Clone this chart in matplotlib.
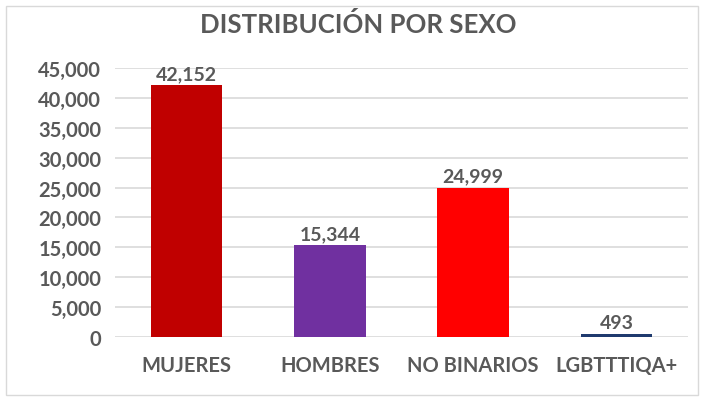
import matplotlib
matplotlib.use("Agg")
import matplotlib.pyplot as plt
from matplotlib.patches import Rectangle

categorias = ["MUJERES", "HOMBRES", "NO BINARIOS", "LGBTTTIQA+"]
valores = [42152, 15344, 24999, 493]
colores = ["#C00000", "#7030A0", "#FF0000", "#1F3A6E"]
yticks = [0, 5000, 10000, 15000, 20000, 25000, 30000, 35000, 40000, 45000]

plt.rcParams["font.family"] = ["Lato", "DejaVu Sans"]
gris = "#595959"

fig = plt.figure(figsize=(7.03, 4.02), dpi=100)
ax = fig.add_axes([0.1636, 0.1592, 0.815, 0.6692])

x = range(len(categorias))
barras = ax.bar(x, valores, width=0.5, color=colores, zorder=3)

# etiquetas de valor
for b, v in zip(barras, valores):
    ax.text(b.get_x() + b.get_width() / 2, v + 500, f"{v:,}",
            ha="center", va="bottom", fontsize=14, color=gris, fontweight="bold")

ax.set_xlim(-0.5, 3.5)
ax.set_ylim(0, 45000)
ax.set_yticks(yticks)
ax.set_yticklabels([f"{t:,}" for t in yticks])
ax.set_xticks(list(x))
ax.set_xticklabels(categorias)
ax.tick_params(axis="y", length=0, pad=10, labelsize=14.5, labelcolor=gris)
ax.tick_params(axis="x", length=0, pad=13, labelsize=14.5, labelcolor=gris)
for lbl in ax.get_yticklabels() + ax.get_xticklabels():
    lbl.set_fontweight("bold")

ax.grid(axis="y", color="#D9D9D9", linewidth=1.2, zorder=0)
for s in ax.spines.values():
    s.set_visible(False)

fig.text(0.51, 0.94, "DISTRIBUCIÓN POR SEXO", ha="center", va="center",
         fontsize=18.5, fontweight="bold", color=gris)

# borde del grafico
fig.patches.append(Rectangle((0.008, 0.015), 0.985, 0.968, transform=fig.transFigure,
                             fill=False, edgecolor="#D9D9D9", linewidth=1))

fig.savefig("out.png", dpi=100)
